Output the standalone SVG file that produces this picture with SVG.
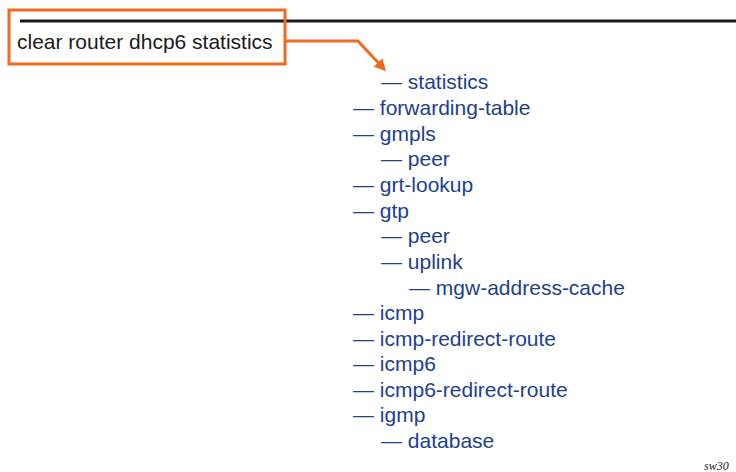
<svg xmlns="http://www.w3.org/2000/svg" width="736" height="472" viewBox="0 0 736 472">
<style>
.t{font-family:"Liberation Sans",Arial,sans-serif;font-size:21px;fill:#213f8f}
.c{font-family:"Liberation Sans",Arial,sans-serif;font-size:21px;fill:#1a1a1a}
.o{fill:none;stroke:#f06a24;stroke-width:3}
</style>
<defs>
<marker id="ah" markerWidth="12" markerHeight="12" refX="9" refY="6" orient="auto" markerUnits="userSpaceOnUse" viewBox="0 0 12 12">
<path d="M0,0 L12,6 L0,12 z" fill="#f06a24"/>
</marker>
</defs>
<line x1="20" y1="21" x2="736" y2="21" stroke="#1a1a1a" stroke-width="3"/>
<g id="cmd">
<rect class="o" x="9" y="10" width="276" height="54" fill="#fff"/>
<text class="c" x="17" y="49">clear router dhcp6 statistics</text>
</g>
<g id="connectors">
<polyline class="o" points="285,41 358,41 384,69" marker-end="url(#ah)"/>
</g>
<g id="tree">
<text class="t" x="381" y="89">— statistics</text>
<text class="t" x="353" y="115">— forwarding-table</text>
<text class="t" x="353" y="141">— gmpls</text>
<text class="t" x="381" y="166">— peer</text>
<text class="t" x="353" y="192">— grt-lookup</text>
<text class="t" x="353" y="218">— gtp</text>
<text class="t" x="381" y="243">— peer</text>
<text class="t" x="381" y="269">— uplink</text>
<text class="t" x="409" y="295">— mgw-address-cache</text>
<text class="t" x="353" y="320">— icmp</text>
<text class="t" x="353" y="346">— icmp-redirect-route</text>
<text class="t" x="353" y="371">— icmp6</text>
<text class="t" x="353" y="397">— icmp6-redirect-route</text>
<text class="t" x="353" y="422">— igmp</text>
<text class="t" x="381" y="448">— database</text>
</g>
<text x="704" y="470" font-family="'Liberation Serif',serif" font-style="italic" font-size="12" fill="#1a1a1a">sw30</text>
</svg>
